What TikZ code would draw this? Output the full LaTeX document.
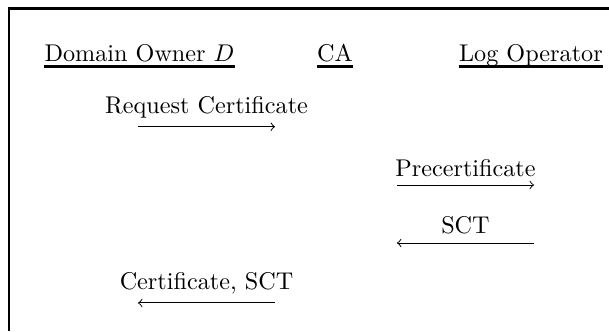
\documentclass[tikz,border=0pt]{standalone}
\begin{document}
\begin{tikzpicture}[
  party/.style={inner sep=0pt, anchor=base},
  uline/.style={line width=1.1pt},
  frameline/.style={line width=1.2pt},
  msg/.style={->},
  lbl/.style={above}
]
\useasboundingbox (0,0) rectangle (8.844,-4.807);
% frame (top and left edges visible)
\coordinate (ftr) at (8.844,-0.119);
\coordinate (fc) at (0.13,-0.119);
\coordinate (fbl) at (0.13,-4.807);
\draw[frameline] (ftr) -- (fc) -- (fbl);
% participants
\node[party] (d)  at (2.026,-0.886) {Domain Owner $D$};
\node[party] (ca) at (4.865,-0.886) {CA};
\node[party] (lo) at (7.71,-0.886) {Log Operator};
\foreach \n in {d,ca,lo}{
  \draw[uline] ([yshift=-2.4pt]\n.base west) -- ([yshift=-2.4pt]\n.base east);
}
% message end points
\coordinate (m1s) at (2.004,-1.840);
\coordinate (m1e) at (3.994,-1.840);
\coordinate (m2s) at (5.765,-2.687);
\coordinate (m2e) at (7.755,-2.687);
\coordinate (m3s) at (7.755,-3.529);
\coordinate (m3e) at (5.765,-3.529);
\coordinate (m4s) at (3.994,-4.400);
\coordinate (m4e) at (2.004,-4.400);
% messages
\draw[msg] (m1s) -- node[lbl] (l1) {Request Certificate} (m1e);
\draw[msg] (m2s) -- node[lbl] (l2) {Precertificate} (m2e);
\draw[msg] (m3s) -- node[lbl] (l3) {SCT} (m3e);
\draw[msg] (m4s) -- node[lbl] (l4) {Certificate, SCT} (m4e);
\end{tikzpicture}
\end{document}
